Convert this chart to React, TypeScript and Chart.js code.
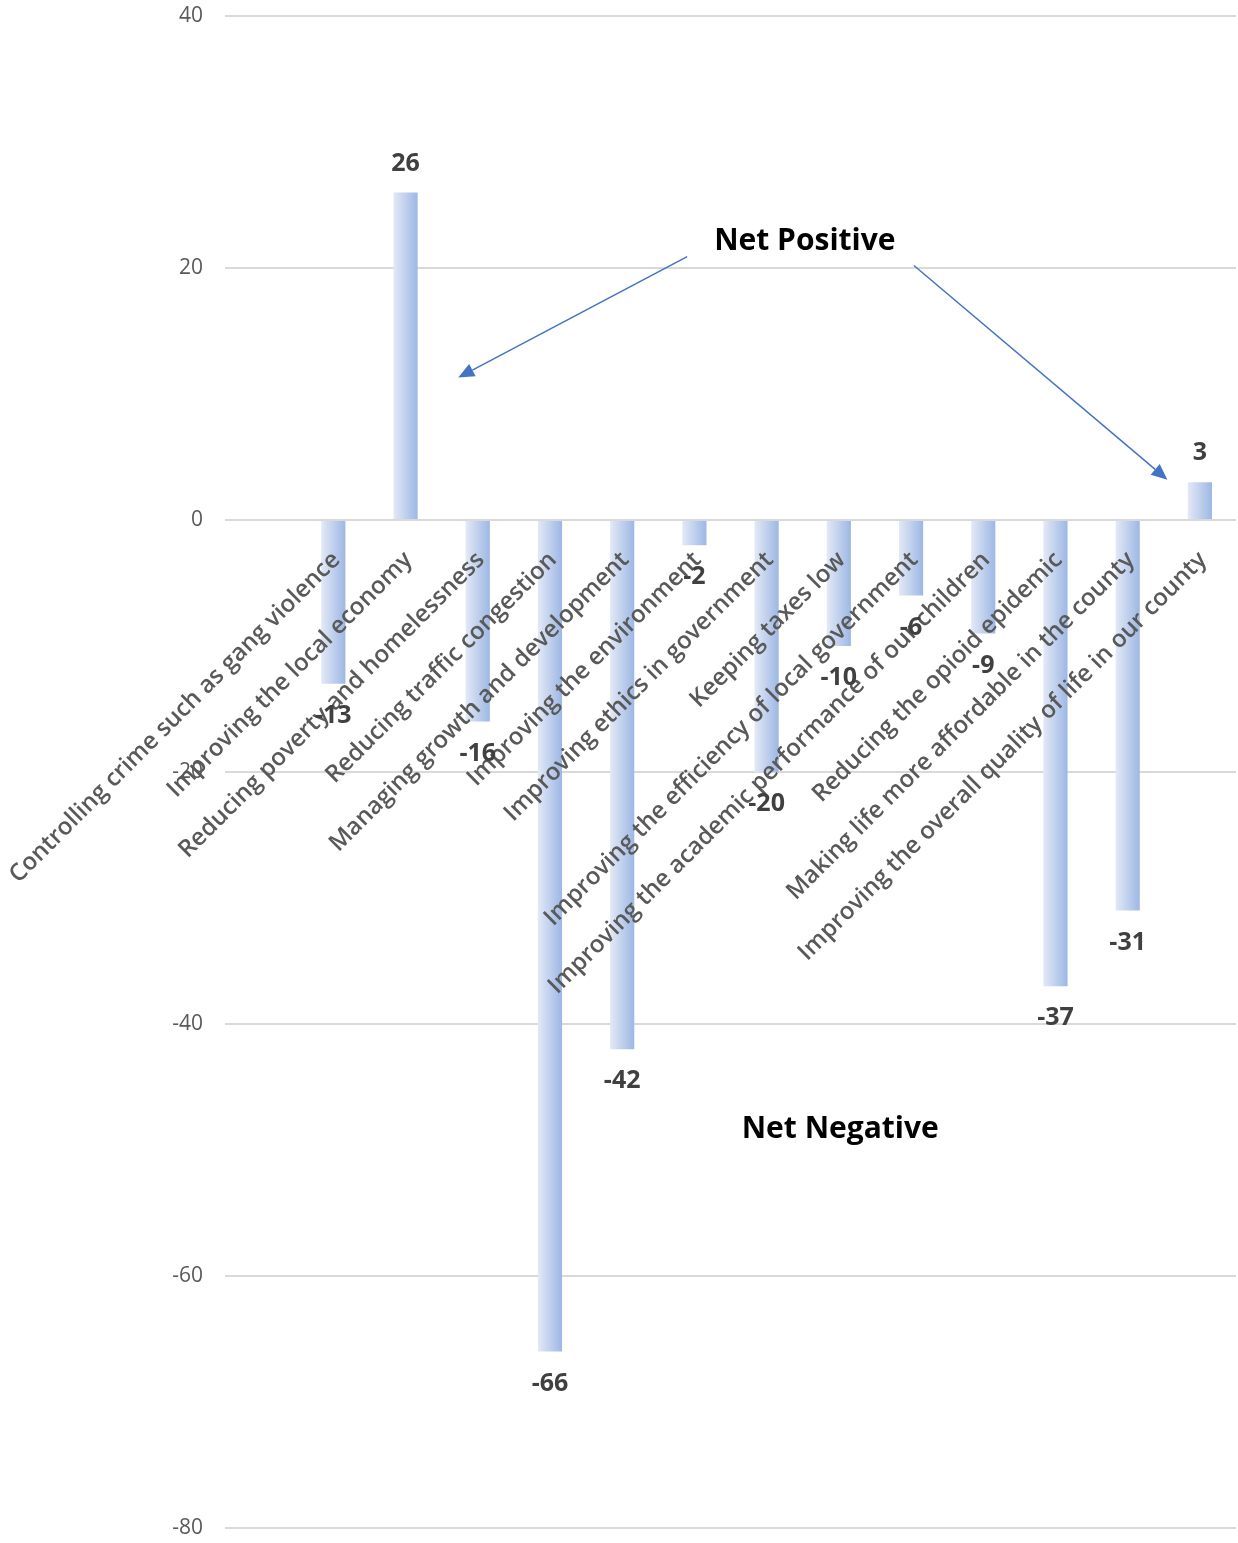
import React, { useEffect, useRef } from "react";
import { Chart, registerables } from "chart.js";

Chart.register(...registerables);

// ---- Data ----
const categories: string[] = [
  "",
  "Controlling crime such as gang violence",
  "Improving the local economy",
  "Reducing poverty and homelessness",
  "Reducing traffic congestion",
  "Managing growth and development",
  "Improving the environment",
  "Improving ethics in government",
  "Keeping taxes low",
  "Improving the efficiency of local government",
  "Improving the academic performance of our children",
  "Reducing the opioid epidemic",
  "Making life more affordable in the county",
  "Improving the overall quality of life in our county",
];
const netValues: (number | null)[] = [null, -13, 26, -16, -66, -42, -2, -20, -10, -6, -9, -37, -31, 3];
const yMin = -80;
const yMax = 40;
const yStep = 20;

// annotation texts and anchors in data space (category index, value)
const noteTexts = ["Net Positive", "Net Negative"];
const noteAnchors = [
  { x: 7.53, y: 22.1 },
  { x: 8.02, y: -48.4 },
];
const arrows = [
  { from: { x: 5.9, y: 20.9 }, to: { x: 2.73, y: 11.3 } },
  { from: { x: 9.04, y: 20.2 }, to: { x: 12.55, y: 3.2 } },
];

const BAR_PCT = 0.335;
const FONT = "'Open Sans', 'DejaVu Sans', sans-serif";

const valueLabelPlugin = {
  id: "valueLabels",
  afterDraw(chart: any) {
    const { ctx } = chart;
    const meta = chart.getDatasetMeta(0);
    ctx.save();
    ctx.font = `700 25px ${FONT}`;
    ctx.fillStyle = "#404040";
    ctx.textAlign = "center";
    ctx.textBaseline = "middle";
    meta.data.forEach((el: any, i: number) => {
      const v = netValues[i];
      if (v === null || v === undefined) return;
      const y = v >= 0 ? el.y - 29 : el.y + 32;
      ctx.fillText(String(v), el.x, y);
    });
    ctx.restore();
  },
};

const annotationPlugin = {
  id: "notes",
  afterDraw(chart: any) {
    const { ctx } = chart;
    const xs = chart.scales.x;
    const ys = chart.scales.y;
    const px = (p: { x: number; y: number }) => ({
      x: xs.getPixelForValue(p.x),
      y: ys.getPixelForValue(p.y),
    });
    ctx.save();
    ctx.fillStyle = "#000000";
    ctx.font = `700 30px ${FONT}`;
    ctx.textAlign = "center";
    ctx.textBaseline = "middle";
    noteTexts.forEach((t, i) => {
      const p = px(noteAnchors[i]);
      ctx.fillText(t, p.x, p.y);
    });
    ctx.strokeStyle = "#4472c4";
    ctx.fillStyle = "#4472c4";
    ctx.lineWidth = 1.5;
    arrows.forEach((a) => {
      const f = px(a.from);
      const t = px(a.to);
      const ang = Math.atan2(t.y - f.y, t.x - f.x);
      const headLen = 16;
      const headW = 7;
      const bx = t.x - headLen * Math.cos(ang);
      const by = t.y - headLen * Math.sin(ang);
      ctx.beginPath();
      ctx.moveTo(f.x, f.y);
      ctx.lineTo(bx, by);
      ctx.stroke();
      ctx.beginPath();
      ctx.moveTo(t.x, t.y);
      ctx.lineTo(bx + headW * Math.sin(ang), by - headW * Math.cos(ang));
      ctx.lineTo(bx - headW * Math.sin(ang), by + headW * Math.cos(ang));
      ctx.closePath();
      ctx.fill();
    });
    ctx.restore();
  },
};

export default function App() {
  const ref = useRef<HTMLCanvasElement>(null);
  useEffect(() => {
    if (!ref.current) return;
    const chart = new Chart(ref.current, {
      type: "bar",
      data: {
        labels: categories,
        datasets: [
          {
            data: netValues as any,
            categoryPercentage: 1,
            barPercentage: BAR_PCT,
            borderWidth: 0,
            backgroundColor: (c: any) => {
              const ch = c.chart;
              const xs = ch.scales && ch.scales.x;
              if (!xs || c.dataIndex === undefined || !ch.chartArea) return "#c0cfee";
              const p = xs.getPixelForValue(c.dataIndex);
              const half = ((xs.width / categories.length) * BAR_PCT) / 2;
              const g = ch.ctx.createLinearGradient(p - half, 0, p + half, 0);
              g.addColorStop(0, "#e3e9f6");
              g.addColorStop(1, "#9db7e4");
              return g;
            },
          },
        ],
      },
      options: {
        responsive: false,
        animation: false,
        layout: { padding: { top: 16, bottom: 15, left: 0, right: 2 } },
        plugins: {
          legend: { display: false },
          tooltip: { enabled: false },
          title: { display: false },
        },
        scales: {
          x: {
            position: { y: 0 } as any,
            offset: true,
            grid: { display: false, drawTicks: false },
            border: { display: false },
            ticks: {
              z: 1,
              autoSkip: false,
              maxRotation: 45,
              minRotation: 45,
              padding: 26,
              labelOffset: 3,
              color: "#595959",
              font: { family: FONT, size: 24, weight: 600 as any },
            },
            afterFit: (s: any) => {
              s.paddingLeft = 0;
              s.paddingRight = 0;
              s.paddingTop = 0;
              s.paddingBottom = 0;
            },
          },
          y: {
            min: yMin,
            max: yMax,
            grid: { color: "#d9d9d9", lineWidth: 2, drawTicks: false },
            border: { display: false },
            ticks: {
              stepSize: yStep,
              padding: 22,
              color: "#595959",
              font: { family: FONT, size: 21 },
            },
            afterFit: (s: any) => {
              s.width = 225;
              s.paddingTop = 0;
              s.paddingBottom = 0;
            },
          },
        },
      },
      plugins: [valueLabelPlugin, annotationPlugin],
    });
    return () => chart.destroy();
  }, []);
  return (
    <div style={{ position: "absolute", left: 0, top: 0, width: 1238, height: 1543, background: "#fff" }}>
      <canvas ref={ref} width={1238} height={1543} style={{ display: "block" }} />
    </div>
  );
}
